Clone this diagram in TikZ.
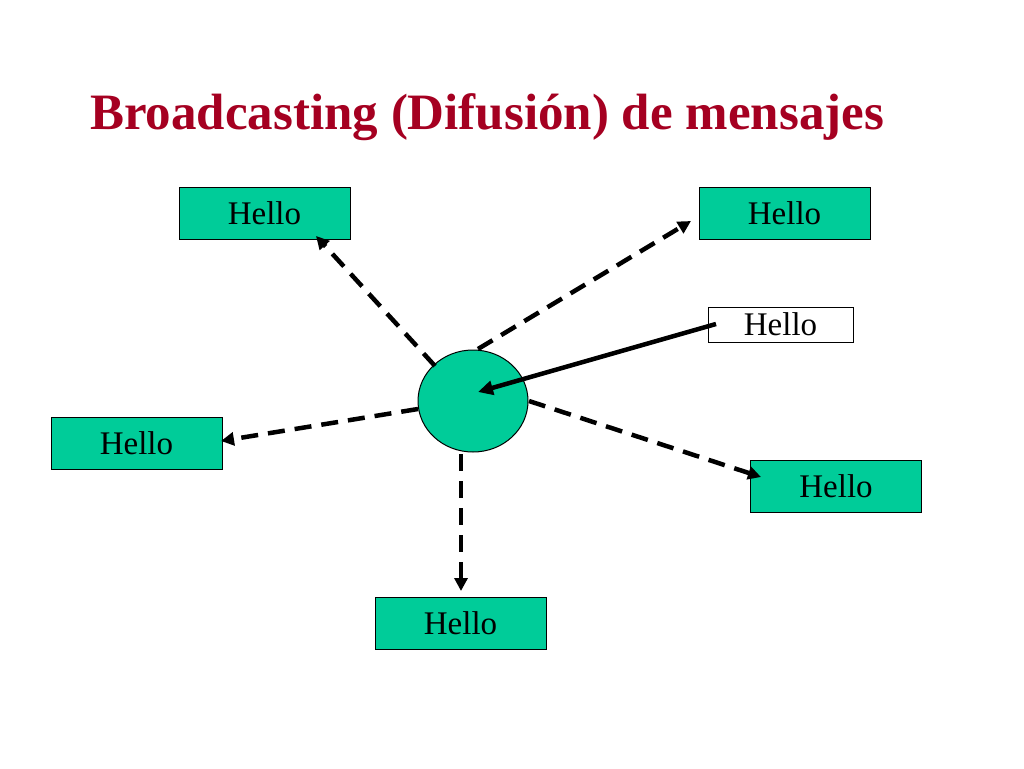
\documentclass[tikz,border=0pt]{standalone}
\usepackage{fontspec}
\setmainfont{Liberation Serif}
\usetikzlibrary{arrows.meta,shapes.geometric}
\definecolor{boxgreen}{RGB}{0,204,153}
\definecolor{titlered}{RGB}{165,0,33}
\begin{document}
\begin{tikzpicture}[x=1pt,y=-1pt,
  hellobox/.style={draw=black,line width=1pt,fill=boxgreen,minimum width=171pt,minimum height=52pt,inner sep=0pt,font=\fontsize{33}{33}\selectfont},
  whitebox/.style={draw=black,line width=1pt,fill=white,minimum width=145pt,minimum height=35pt,inner sep=0pt,font=\fontsize{33}{33}\selectfont},
  bcast/.style={line width=4.5pt,dash pattern=on 17pt off 10pt,-{Triangle[length=13pt,width=13pt]}},
  recv/.style={line width=4.5pt,-{Triangle[length=15pt,width=14pt]}}]
\useasboundingbox (0,0) rectangle (1024,768);
\fill[white] (0,0) rectangle (1024,768);
\node[anchor=base west,text=titlered,font=\bfseries\fontsize{51}{51}\selectfont,inner sep=0pt] (title) at (90,129) {Broadcasting (Difusión) de mensajes};
\node[ellipse,draw=black,line width=1pt,fill=boxgreen,minimum width=110pt,minimum height=102pt,inner sep=0pt] (c) at (473,401) {};
\coordinate (cc) at (478,392);
\node[hellobox] (tl) at (264.5,213) {Hello};
\node[hellobox] (tr) at (784.5,213) {Hello};
\node[whitebox] (w) at (780.5,324.5) {Hello};
\node[hellobox] (l) at (136.5,443) {Hello};
\node[hellobox] (r) at (836,486) {Hello};
\node[hellobox] (b) at (460.5,623) {Hello};
\coordinate (ws) at (716,324);
\coordinate (s1) at (435,366);
\coordinate (s2) at (478,349);
\coordinate (s3) at (418,409);
\coordinate (s4) at (529,401);
\coordinate (s5) at (461,454);
\coordinate (tla) at (316,236);
\coordinate (tra) at (691,221);
\coordinate (la) at (221,441);
\coordinate (ra) at (761,477);
\coordinate (ba) at (461,591);
\draw[recv] (ws) -- (cc);
\draw[bcast] (s1) -- (tla);
\draw[bcast] (s2) -- (tra);
\draw[bcast] (s3) -- (la);
\draw[bcast] (s4) -- (ra);
\draw[bcast] (s5) -- (ba);
\end{tikzpicture}
\end{document}
